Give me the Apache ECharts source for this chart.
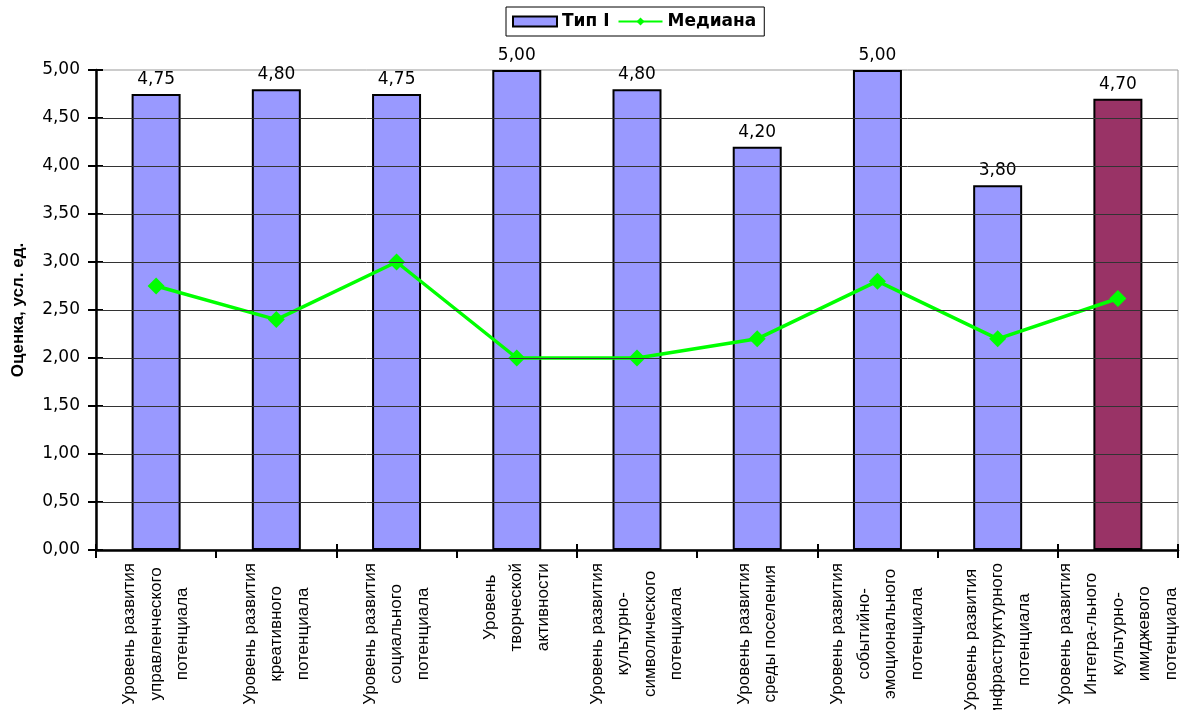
<!DOCTYPE html>
<html>
<head>
<meta charset="utf-8">
<script src="https://cdn.jsdelivr.net/npm/echarts@6/dist/echarts.min.js"></script>
<style>
  html, body { margin: 0; padding: 0; background: #fff; }
  #chart { width: 1186px; height: 710px; }
</style>
</head>
<body>
<div id="chart"></div>
<script>
// Category labels (line breaks as printed under the axis)
const categories = [
  'Уровень развития\nуправленческого\nпотенциала',
  'Уровень развития\nкреативного\nпотенциала',
  'Уровень развития\nсоциального\nпотенциала',
  'Уровень\nтворческой\nактивности',
  'Уровень развития\nкультурно-\nсимволического\nпотенциала',
  'Уровень развития\nсреды поселения',
  'Уровень развития\nсобытийно-\nэмоционального\nпотенциала',
  'Уровень развития\nинфраструктурного\nпотенциала',
  'Уровень развития\nИнтегра-льного\nкультурно-\nимиджевого\nпотенциала'
];
// Scores of type I
const typeValues = [4.75, 4.80, 4.75, 5.00, 4.80, 4.20, 5.00, 3.80, 4.70];
// Median scores
const medianValues = [2.75, 2.40, 3.00, 2.00, 2.00, 2.20, 2.80, 2.20, 2.62];
// Y axis range
const yMin = 0, yMax = 5, yStep = 0.5;

const seriesNames = ['Тип I', 'Медиана'];

const fmt = v => Number(v).toFixed(2).replace('.', ',');
const numFont = 'DejaVu Sans';
const textFont = '"Liberation Sans", Arial, sans-serif';
const lastIdx = typeValues.length - 1;

const chart = echarts.init(document.getElementById('chart'), null, { renderer: 'canvas' });

const barData = typeValues.map((v, i) =>
  i === lastIdx ? { value: v, itemStyle: { color: '#993366' } } : v
);

const option = {
  animation: false,
  backgroundColor: '#ffffff',
  legend: {
    left: 506,
    top: 7,
    padding: [6, 8, 6, 6],
    borderColor: '#000',
    borderWidth: 1,
    itemWidth: 44,
    itemHeight: 10,
    itemGap: 8,
    textStyle: { fontFamily: numFont, fontWeight: 'bold', fontSize: 17, color: '#000' },
    data: [
      { name: seriesNames[0], icon: 'rect', itemStyle: { color: '#9999FF', borderColor: '#000', borderWidth: 2 } },
      { name: seriesNames[1] }
    ]
  },
  grid: {
    left: 96, right: 8, top: 70, bottom: 160,
    outerBoundsMode: 'none',
    containLabel: false,
    show: true, borderColor: '#999', borderWidth: 1, backgroundColor: 'transparent'
  },
  xAxis: [
    {
      type: 'category',
      position: 'bottom',
      data: categories,
      axisLine: { lineStyle: { color: '#000', width: 2.5 } },
      axisTick: { show: true, length: 8, lineStyle: { color: '#000', width: 2 } },
      axisLabel: {
        interval: 0,
        rotate: 90,
        margin: 13,
        fontFamily: textFont,
        fontSize: 17,
        lineHeight: 26.5,
        color: '#000',
        formatter: v => '{c|' + v.split('\n').join('}\n{c|') + '}',
        rich: {
          c: { align: 'center', fontFamily: textFont, fontSize: 17, lineHeight: 26.5, color: '#000' }
        }
      },
      z: 5
    },
    {
      type: 'category',
      position: 'bottom',
      data: categories,
      axisLine: { show: false },
      axisTick: { show: true, inside: true, length: 6, lineStyle: { color: '#000', width: 2 } },
      axisLabel: { show: false },
      splitLine: { show: false }
    }
  ],
  yAxis: [
    {
      type: 'value',
      min: yMin, max: yMax, interval: yStep,
      name: 'Оценка, усл. ед.',
      nameLocation: 'middle',
      nameRotate: 90,
      nameGap: 69,
      nameTextStyle: { fontFamily: textFont, fontWeight: 'bold', fontSize: 17, color: '#000' },
      axisLine: { show: true, lineStyle: { color: '#000', width: 2.5 } },
      axisTick: { show: true, length: 8, lineStyle: { color: '#000', width: 2 } },
      axisLabel: { formatter: fmt, margin: 16, fontFamily: numFont, fontSize: 17, color: '#000' },
      splitLine: { show: true, showMaxLine: false, lineStyle: { color: '#333', width: 1 } },
      z: 5
    },
    {
      type: 'value',
      position: 'left',
      min: yMin, max: yMax, interval: yStep,
      axisLine: { show: false },
      axisTick: { show: true, inside: true, length: 7, lineStyle: { color: '#000', width: 2 } },
      axisLabel: { show: false },
      splitLine: { show: false }
    }
  ],
  series: [
    {
      name: seriesNames[0],
      type: 'bar',
      xAxisIndex: 0,
      yAxisIndex: 0,
      data: barData,
      barWidth: 49,
      itemStyle: { color: '#9999FF', borderColor: '#000', borderWidth: 2 },
      label: {
        show: true,
        position: 'top',
        distance: 6,
        formatter: p => fmt(p.value),
        fontFamily: numFont,
        fontSize: 17,
        color: '#000'
      },
      z: 2
    },
    {
      name: seriesNames[1],
      type: 'line',
      xAxisIndex: 0,
      yAxisIndex: 0,
      data: medianValues,
      symbol: 'diamond',
      symbolSize: 17,
      lineStyle: { color: '#00FF00', width: 3.5 },
      itemStyle: { color: '#00FF00' },
      z: 3
    }
  ]
};

chart.setOption(option);
</script>
</body>
</html>
